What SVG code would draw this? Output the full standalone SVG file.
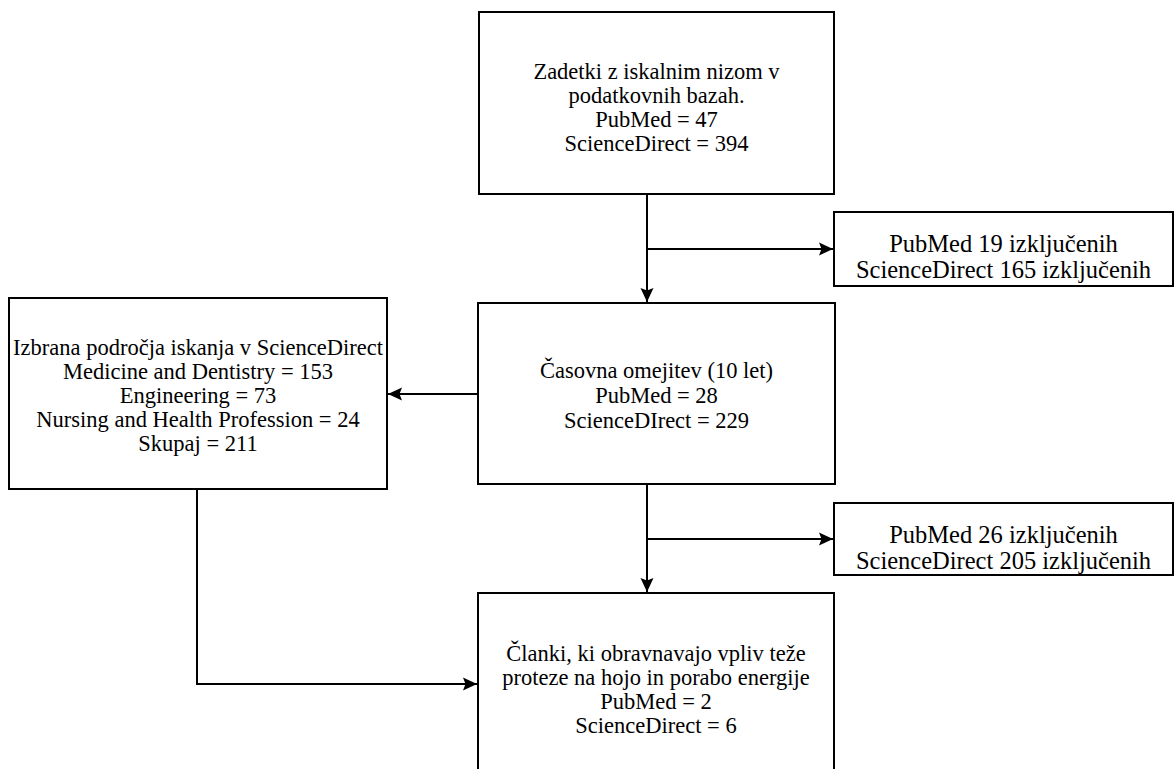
<svg xmlns="http://www.w3.org/2000/svg" width="1176" height="769" viewBox="0 0 1176 769">
  <style>
    .box { fill: #ffffff; stroke: #000000; stroke-width: 2; }
    .lbl { font-family: "Liberation Serif", "Times New Roman", serif; font-size: 22.5px; fill: #000000; text-anchor: middle; }
    .lbl-big { font-size: 24.5px; }
    .wire { fill: none; stroke: #000000; stroke-width: 2; }
  </style>
  <defs>
    <marker id="head" markerUnits="userSpaceOnUse" markerWidth="16" markerHeight="14" refX="14" refY="7" orient="auto">
      <path d="M0,0.5 L14,7 L0,13.5 L2.5,7 Z" fill="#000000"/>
    </marker>
  </defs>
  <rect width="1176" height="769" fill="#ffffff"/>

  <!-- flow connectors -->
  <g id="connectors">
    <path class="wire" d="M647,194 V302" marker-end="url(#head)"/>
    <path class="wire" d="M647,249 H833" marker-end="url(#head)"/>
    <path class="wire" d="M478,394 H388" marker-end="url(#head)"/>
    <path class="wire" d="M647,485 V592" marker-end="url(#head)"/>
    <path class="wire" d="M647,539 H833" marker-end="url(#head)"/>
    <path class="wire" d="M197,489 V684 H477" marker-end="url(#head)"/>
  </g>

  <g id="search-hits">
    <rect class="box" x="479" y="12" width="355" height="182"/>
    <text class="lbl" x="656.5" y="79">Zadetki z iskalnim nizom v</text>
    <text class="lbl" x="656.5" y="103">podatkovnih bazah.</text>
    <text class="lbl" x="656.5" y="127">PubMed = 47</text>
    <text class="lbl" x="656.5" y="151">ScienceDirect = 394</text>
  </g>

  <g id="excluded-1">
    <rect class="box" x="834" y="212" width="339" height="74"/>
    <text class="lbl lbl-big" x="1003.5" y="252">PubMed 19 izključenih</text>
    <text class="lbl lbl-big" x="1003.5" y="278">ScienceDirect 165 izključenih</text>
  </g>

  <g id="time-limit">
    <rect class="box" x="478" y="303" width="357" height="181"/>
    <text class="lbl" x="656.5" y="378">Časovna omejitev (10 let)</text>
    <text class="lbl" x="656.5" y="403">PubMed = 28</text>
    <text class="lbl" x="656.5" y="428">ScienceDIrect = 229</text>
  </g>

  <g id="subject-areas">
    <rect class="box" x="9" y="298" width="378" height="191"/>
    <text class="lbl" x="198" y="355">Izbrana področja iskanja v ScienceDirect</text>
    <text class="lbl" x="198" y="379">Medicine and Dentistry = 153</text>
    <text class="lbl" x="198" y="403">Engineering = 73</text>
    <text class="lbl" x="198" y="427">Nursing and Health Profession = 24</text>
    <text class="lbl" x="198" y="451">Skupaj = 211</text>
  </g>

  <g id="excluded-2">
    <rect class="box" x="834" y="503" width="339" height="72"/>
    <text class="lbl lbl-big" x="1003.5" y="543">PubMed 26 izključenih</text>
    <text class="lbl lbl-big" x="1003.5" y="569">ScienceDirect 205 izključenih</text>
  </g>

  <g id="selected-articles">
    <rect class="box" x="478" y="593" width="356" height="200"/>
    <text class="lbl" x="656" y="661">Članki, ki obravnavajo vpliv teže</text>
    <text class="lbl" x="656" y="685">proteze na hojo in porabo energije</text>
    <text class="lbl" x="656" y="709">PubMed = 2</text>
    <text class="lbl" x="656" y="733">ScienceDirect = 6</text>
  </g>
</svg>
